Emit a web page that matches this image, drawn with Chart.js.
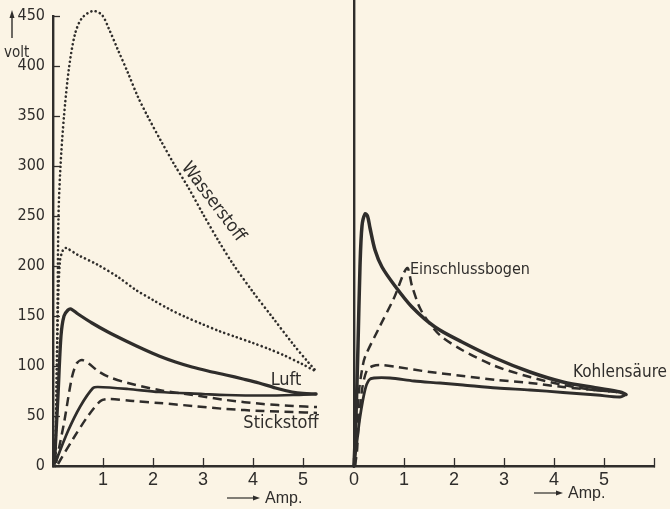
<!DOCTYPE html>
<html>
<head>
<meta charset="utf-8">
<script src="https://cdn.jsdelivr.net/npm/chart.js@4.4.1/dist/chart.umd.min.js"></script>
<style>
  html, body { margin: 0; padding: 0; background: #fbf4e5; }
  #wrap { position: relative; width: 670px; height: 509px; overflow: hidden; }
  canvas { position: absolute; top: 0; }
  #left { left: 0; }
  #right { left: 300px; }
</style>
</head>
<body>
<div id="wrap">
  <canvas id="left" width="354" height="509"></canvas>
  <canvas id="right" width="370" height="509"></canvas>
</div>
<script>
// --- left panel (amp / volt), upper and lower branch of each loop ---
const wasserAufI = [0.04, 0.07, 0.09, 0.11, 0.15, 0.22, 0.32, 0.44, 0.58, 0.8, 0.98, 1.12, 1.3, 1.5, 1.7, 1.9, 2.16, 2.42, 2.7, 3.0, 3.3, 3.6, 4.0, 4.4, 4.8, 5.1, 5.28];
const wasserAufV = [0, 60, 150, 250, 300, 350, 398, 432, 448, 455, 451, 437, 416, 393, 369, 349, 325, 302, 279, 252, 226, 202, 174, 148, 122, 104, 94];
const wasserAbI = [0.05, 0.07, 0.1, 0.14, 0.2, 0.26, 0.5, 0.9, 1.3, 1.66, 2.0, 2.32, 2.65, 2.98, 3.32, 3.66, 4.0, 4.32, 4.65, 4.98, 5.28];
const wasserAbV = [0, 80, 160, 205, 216, 218, 211, 201, 189, 176, 166, 157, 149, 142, 135, 129, 123, 117, 110, 102, 94];

const luftAufI = [0.03, 0.1, 0.16, 0.22, 0.3, 0.36, 0.5, 0.78, 1.1, 1.46, 1.8, 2.12, 2.45, 2.78, 3.1, 3.46, 3.8, 4.12, 4.45, 4.78, 5.0, 5.26];
const luftAufV = [3, 70, 130, 150, 156, 157, 152, 143, 134, 125, 117, 110, 104, 99, 95, 91, 87, 83, 78, 74, 72.5, 72];
const luftAbI = [0.06, 0.3, 0.55, 0.8, 0.9, 1.5, 2.12, 3.0, 3.46, 4.2, 4.8, 5.26];
const luftAbV = [5, 35, 60, 78, 79, 77, 74, 72, 71, 70.5, 71, 72];

const stickAufI = [0.06, 0.22, 0.38, 0.48, 0.58, 0.7, 0.9, 1.12, 1.5, 2.12, 2.8, 3.46, 4.2, 4.8, 5.28];
const stickAufV = [3, 43, 89, 103, 106, 103, 95, 89, 83, 76, 71, 66, 62, 60, 59];
const stickAbI = [0.1, 0.4, 0.7, 0.95, 1.1, 1.6, 2.12, 2.8, 3.46, 4.2, 4.8, 5.28];
const stickAbV = [2, 27, 50, 65, 67, 65, 63, 60, 57, 55, 54, 53];

// --- right panel ---
const kohleAufI = [0.0, 0.04, 0.08, 0.12, 0.16, 0.22, 0.27, 0.32, 0.42, 0.56, 0.82, 1.16, 1.62, 2.16, 2.82, 3.52, 4.18, 4.86, 5.32, 5.44];
const kohleAufV = [0, 50, 120, 200, 240, 252, 250, 238, 216, 199, 180, 159, 139, 124, 108, 94, 84, 78, 74, 71.5];
const kohleAbI = [0.0, 0.06, 0.12, 0.22, 0.3, 0.4, 0.72, 1.2, 1.72, 2.18, 2.86, 3.52, 4.18, 4.86, 5.32, 5.44];
const kohleAbV = [0, 25, 49, 76, 86, 88, 88, 85, 83, 81, 78, 76, 73.5, 71, 69, 71.5];
const kohleGestI = [0.02, 0.06, 0.08, 0.16, 0.26, 0.38, 0.52, 0.86, 1.52, 2.18, 2.86, 3.52, 4.18, 4.8, 5.26];
const kohleGestV = [0, 15, 33, 76, 96, 100, 101, 99, 94, 90, 86, 83, 79, 76, 74];
const einschlussI = [0.02, 0.06, 0.1, 0.16, 0.22, 0.5, 0.8, 1.06, 1.16, 1.3, 1.42, 1.6, 1.76, 2.16, 2.82, 3.52, 4.18, 4.8, 5.26];
const einschlussV = [0, 40, 75, 96, 109, 138, 168, 198, 180, 160, 149, 137, 129, 116, 100, 89, 81, 76, 74];

const INK = '#2f2d2b';
const NARROW = "'DejaVu Sans Condensed', 'Liberation Sans Narrow', sans-serif";
const SANS = "'Liberation Sans', Arial, sans-serif";

function pts(xs, ys) {
    return xs.map((x, i) => ({ x: x, y: ys[i] }));
}

function line(xs, ys, kind, w) {
    const ds = {
        data: pts(xs, ys), borderColor: INK, borderWidth: w, tension: 0.3,
        pointRadius: 0, fill: false, clip: false, borderCapStyle: 'round', borderJoinStyle: 'round'
    };
    if (kind === 'dash') { ds.borderDash = [9, 5.5]; ds.borderCapStyle = 'butt'; }
    if (kind === 'dot') ds.borderDash = [0.1, 4.3];
    return ds;
}

// texts and arrows drawn on top, placed through the scales
const textPlugin = {
    id: 'texte',
    afterDraw(chart, args, opts) {
        const ctx = chart.ctx, sx = chart.scales.x, sy = chart.scales.y, area = chart.chartArea;
        ctx.save();
        ctx.fillStyle = INK;
        ctx.strokeStyle = INK;
        (opts.labels || []).forEach(l => {
            ctx.save();
            ctx.font = l.font;
            ctx.translate(sx.getPixelForValue(l.x), sy.getPixelForValue(l.y));
            ctx.rotate((l.rot || 0) * Math.PI / 180);
            ctx.textAlign = l.align || 'center';
            ctx.textBaseline = 'middle';
            ctx.fillText(l.text, 0, 0);
            ctx.restore();
        });
        // "-> Amp."
        const a = opts.amp;
        if (a) {
            const x1 = sx.getPixelForValue(a.from), x2 = sx.getPixelForValue(a.to);
            const y = area.bottom + a.dy;
            ctx.lineWidth = 1.2;
            ctx.beginPath(); ctx.moveTo(x1, y); ctx.lineTo(x2 - 4, y); ctx.stroke();
            ctx.beginPath(); ctx.moveTo(x2, y); ctx.lineTo(x2 - 7, y - 2.5); ctx.lineTo(x2 - 7, y + 2.5); ctx.closePath(); ctx.fill();
            ctx.font = '16px ' + SANS;
            ctx.textAlign = 'left';
            ctx.textBaseline = 'middle';
            ctx.fillText('Amp.', x2 + 5, y + 1);
        }
        // "^ volt"
        if (opts.volt) {
            const x = area.left - 41;
            ctx.lineWidth = 1.4;
            ctx.beginPath(); ctx.moveTo(x, area.top + 22); ctx.lineTo(x, area.top - 2); ctx.stroke();
            ctx.beginPath(); ctx.moveTo(x, area.top - 6); ctx.lineTo(x - 2.5, area.top + 2); ctx.lineTo(x + 2.5, area.top + 2); ctx.closePath(); ctx.fill();
            ctx.font = '15px ' + NARROW;
            ctx.textAlign = 'left';
            ctx.textBaseline = 'middle';
            ctx.fillText('volt', 4, area.top + 37);
        }
        ctx.restore();
    }
};

function noPad(s) {
    s.paddingTop = 0; s.paddingBottom = 0; s.paddingLeft = 0; s.paddingRight = 0;
}

function axisX(hide) {
    return {
        type: 'linear', min: 0, max: 6,
        afterFit: s => { s.height = 43; noPad(s); },
        ticks: {
            stepSize: 1, autoSkip: false, maxRotation: 0, padding: 11, color: INK,
            font: { family: SANS, size: 18 },
            callback: v => hide.includes(v) ? '' : String(v)
        },
        grid: { drawOnChartArea: false, tickLength: -8, color: INK, tickWidth: 1.3 },
        border: { color: INK, width: 2.4 }
    };
}

Chart.defaults.animation = false;

new Chart(document.getElementById('left'), {
    type: 'line',
    data: {
        datasets: [
            line(wasserAufI, wasserAufV, 'dot', 2.6),
            line(wasserAbI, wasserAbV, 'dot', 2.6),
            line(luftAufI, luftAufV, 'solid', 3.3),
            line(luftAbI, luftAbV, 'solid', 2.7),
            line(stickAufI, stickAufV, 'dash', 2.5),
            line(stickAbI, stickAbV, 'dash', 2.5)
        ]
    },
    options: {
        responsive: false, devicePixelRatio: 1, events: [],
        layout: { padding: { top: 16, right: 1, left: 0, bottom: 0 } },
        scales: {
            x: axisX([0, 6]),
            y: {
                type: 'linear', min: 0, max: 450,
                afterFit: s => { s.width = 53; noPad(s); },
                ticks: { stepSize: 50, padding: 15, color: INK, font: { family: NARROW, size: 16 } },
                grid: { drawOnChartArea: false, tickLength: -7, color: INK, tickWidth: 1.3 },
                border: { color: INK, width: 2.4 }
            }
        },
        plugins: {
            legend: { display: false },
            tooltip: { enabled: false },
            texte: {
                volt: true,
                amp: { from: 3.48, to: 4.14, dy: 32 },
                labels: [
                    { text: 'Wasserstoff', x: 3.2, y: 264, rot: 53, font: '18px ' + NARROW },
                    { text: 'Luft', x: 4.66, y: 86, font: '18px ' + NARROW },
                    { text: 'Stickstoff', x: 4.56, y: 43, font: '18px ' + NARROW }
                ]
            }
        }
    },
    plugins: [textPlugin]
});

new Chart(document.getElementById('right'), {
    type: 'line',
    data: {
        datasets: [
            line(kohleAufI, kohleAufV, 'solid', 3.5),
            line(kohleAbI, kohleAbV, 'solid', 2.8),
            line(kohleGestI, kohleGestV, 'dash', 2.5),
            line(einschlussI, einschlussV, 'dash', 2.5)
        ]
    },
    options: {
        responsive: false, devicePixelRatio: 1, events: [],
        layout: { padding: { top: 0, right: 16, left: 0, bottom: 0 } },
        scales: {
            x: axisX([6]),
            y: {
                type: 'linear', min: 0, max: 466,
                afterFit: s => { s.width = 54; noPad(s); },
                ticks: { display: false },
                grid: { display: false },
                border: { color: INK, width: 2.4 }
            }
        },
        plugins: {
            legend: { display: false },
            tooltip: { enabled: false },
            texte: {
                amp: { from: 3.6, to: 4.18, dy: 27 },
                labels: [
                    { text: 'Einschlussbogen', x: 1.12, y: 196, align: 'left', font: '16px ' + NARROW },
                    { text: 'Kohlensäure', x: 4.38, y: 93, align: 'left', font: '17px ' + NARROW }
                ]
            }
        }
    },
    plugins: [textPlugin]
});
</script>
</body>
</html>
